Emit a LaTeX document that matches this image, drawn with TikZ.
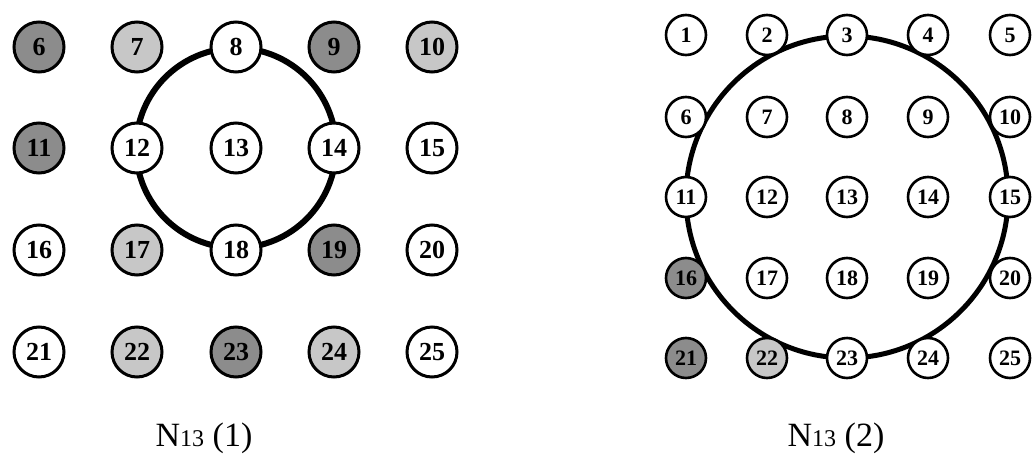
\documentclass[tikz,border=0pt]{standalone}
\usepackage{fontspec}
\setmainfont{Liberation Serif}
\begin{document}
\begin{tikzpicture}[x=1pt,y=-1pt,
  nodeA/.style={circle, draw, line width=3pt, fill=white, minimum size=50pt, inner sep=0pt, font=\bfseries\fontsize{26}{26}\selectfont},
  nodeB/.style={circle, draw, line width=2.6pt, fill=white, minimum size=40pt, inner sep=0pt, font=\bfseries\fontsize{22}{22}\selectfont},
  darkA/.style={fill=black!45},
  lightA/.style={fill=black!22},
  ring/.style={draw, line width=6pt},
  captext/.style={font=\fontsize{34}{34}\selectfont, anchor=base}
]
\useasboundingbox (0,0) rectangle (1034,453);
% left grid
\def\lx{{39,137,236,334,432}}
\def\ly{{47,148,250,352}}
\foreach \r in {0,...,3}{
  \foreach \c in {0,...,4}{
    \pgfmathsetmacro\xx{\lx[\c]}
    \pgfmathsetmacro\yy{\ly[\r]}
    \pgfmathtruncatemacro\num{5*(\r+1)+\c+1}
    \coordinate (L\num) at (\xx,\yy);
  }
}
\draw[ring] (L13) circle (100);
\foreach \n in {8,12,13,14,15,16,18,20,21,25}{ \node[nodeA] (a\n) at (L\n) {\n}; }
\foreach \n in {6,9,11,19,23}{ \node[nodeA,darkA] (a\n) at (L\n) {\n}; }
\foreach \n in {7,10,17,22,24}{ \node[nodeA,lightA] (a\n) at (L\n) {\n}; }
% right grid
\def\rx{{686,767,847,928,1010}}
\def\ry{{35,117,197,278,358}}
\foreach \r in {0,...,4}{
  \foreach \c in {0,...,4}{
    \pgfmathsetmacro\xx{\rx[\c]}
    \pgfmathsetmacro\yy{\ry[\r]}
    \pgfmathtruncatemacro\num{5*\r+\c+1}
    \coordinate (R\num) at (\xx,\yy);
  }
}
\draw[ring, line width=5pt] (R13) circle (161);
\foreach \n in {1,2,3,4,5,6,7,8,9,10,11,12,13,14,15,17,18,19,20,23,24,25}{ \node[nodeB] (b\n) at (R\n) {\n}; }
\foreach \n in {16,21}{ \node[nodeB,darkA] (b\n) at (R\n) {\n}; }
\foreach \n in {22}{ \node[nodeB,lightA] (b\n) at (R\n) {\n}; }
% captions
\node[captext] (capL) at (204,446) {N{\fontsize{24}{24}\selectfont 13} (1)};
\node[captext] (capR) at (836,446) {N{\fontsize{24}{24}\selectfont 13} (2)};
\end{tikzpicture}
\end{document}
